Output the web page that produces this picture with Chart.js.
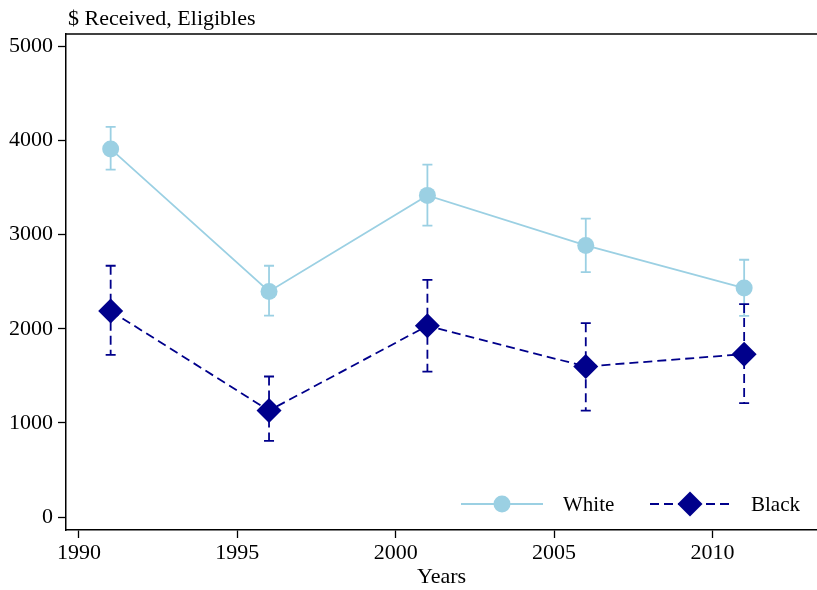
<!DOCTYPE html>
<html>
<head>
<meta charset="utf-8">
<script src="https://cdn.jsdelivr.net/npm/chart.js@4.4.0/dist/chart.umd.min.js"></script>
<style>
  html, body { margin: 0; padding: 0; background: #fff; }
  #wrap { width: 817px; height: 590px; }
</style>
</head>
<body>
<div id="wrap"><canvas id="chart"></canvas></div>
<script>
// data
const years = [1991, 1996, 2001, 2006, 2011];
const whiteMean = [3912, 2397, 3418, 2886, 2433];
const whiteLow = [3691, 2141, 3096, 2603, 2138];
const whiteHigh = [4146, 2670, 3745, 3170, 2734];
const blackMean = [2190, 1131, 2032, 1599, 1731];
const blackLow = [1723, 809, 1546, 1131, 1210];
const blackHigh = [2670, 1493, 2521, 2060, 2263];
const yTicks = [0, 1000, 2000, 3000, 4000, 5000];
const xTicks = [1990, 1995, 2000, 2005, 2010];

const lightBlue = "#9bd0e3";
const navy = "#00008b";
const FONT = "'Liberation Serif', 'Times New Roman', serif";

function pts(ys) {
  return years.map((x, i) => ({ x: x, y: ys[i] }));
}

// error bars + frame + legend + y title
const extras = {
  id: "extras",
  afterDatasetsDraw(chart) {
    const ctx = chart.ctx;
    const xs = chart.scales.x, ys = chart.scales.y;
    const a = chart.chartArea;
    const bars = [
      { lo: whiteLow, hi: whiteHigh, color: lightBlue, dash: [] },
      { lo: blackLow, hi: blackHigh, color: navy, dash: [9, 5] }
    ];
    ctx.save();
    bars.forEach(b => {
      ctx.strokeStyle = b.color;
      ctx.lineWidth = 1.8;
      years.forEach((yr, i) => {
        const px = xs.getPixelForValue(yr);
        const top = ys.getPixelForValue(b.hi[i]);
        const bot = ys.getPixelForValue(b.lo[i]);
        ctx.setLineDash(b.dash);
        ctx.beginPath();
        ctx.moveTo(px, top);
        ctx.lineTo(px, bot);
        ctx.stroke();
        ctx.setLineDash([]);
        ctx.beginPath();
        ctx.moveTo(px - 5, top); ctx.lineTo(px + 5, top);
        ctx.moveTo(px - 5, bot); ctx.lineTo(px + 5, bot);
        ctx.stroke();
      });
    });
    // redraw markers over the bars
    chart.getDatasetMeta(0).data.forEach(p => {
      ctx.fillStyle = lightBlue;
      ctx.beginPath();
      ctx.arc(p.x, p.y, 8.5, 0, Math.PI * 2);
      ctx.fill();
    });
    chart.getDatasetMeta(1).data.forEach(p => {
      ctx.fillStyle = navy;
      ctx.beginPath();
      ctx.moveTo(p.x, p.y - 12.5);
      ctx.lineTo(p.x + 12.5, p.y);
      ctx.lineTo(p.x, p.y + 12.5);
      ctx.lineTo(p.x - 12.5, p.y);
      ctx.closePath();
      ctx.fill();
    });

    // top frame line
    ctx.strokeStyle = "#000";
    ctx.lineWidth = 1.5;
    ctx.beginPath();
    ctx.moveTo(a.left, a.top);
    ctx.lineTo(chart.width, a.top);
    ctx.stroke();

    // axis title on top
    ctx.fillStyle = "#000";
    ctx.font = "22px " + FONT;
    ctx.textAlign = "left";
    ctx.textBaseline = "alphabetic";
    ctx.fillText("$ Received, Eligibles", 68, 25);

    // legend
    const ly = 504;
    ctx.lineWidth = 1.8;
    ctx.strokeStyle = lightBlue;
    ctx.beginPath();
    ctx.moveTo(461, ly); ctx.lineTo(543, ly);
    ctx.stroke();
    ctx.fillStyle = lightBlue;
    ctx.beginPath();
    ctx.arc(502, ly, 8.5, 0, Math.PI * 2);
    ctx.fill();
    ctx.strokeStyle = navy;
    ctx.setLineDash([9, 5]);
    ctx.beginPath();
    ctx.moveTo(650, ly); ctx.lineTo(733, ly);
    ctx.stroke();
    ctx.setLineDash([]);
    ctx.fillStyle = navy;
    ctx.beginPath();
    ctx.moveTo(690, ly - 12.5);
    ctx.lineTo(702.5, ly);
    ctx.lineTo(690, ly + 12.5);
    ctx.lineTo(677.5, ly);
    ctx.closePath();
    ctx.fill();
    ctx.fillStyle = "#000";
    ctx.font = "21px " + FONT;
    ctx.textBaseline = "middle";
    ctx.fillText("White", 563, ly + 1);
    ctx.fillText("Black", 751, ly + 1);
    ctx.restore();
  }
};

new Chart("chart", {
  type: "line",
  data: {
    datasets: [
      {
        label: "White",
        data: pts(whiteMean),
        borderColor: lightBlue,
        backgroundColor: lightBlue,
        borderWidth: 1.8,
        pointRadius: 0,
        tension: 0
      },
      {
        label: "Black",
        data: pts(blackMean),
        borderColor: navy,
        backgroundColor: navy,
        borderWidth: 1.8,
        borderDash: [9, 5],
        pointRadius: 0,
        tension: 0
      }
    ]
  },
  options: {
    responsive: true,
    maintainAspectRatio: false,
    animation: false,
    layout: { padding: { top: 34, right: 0, left: 0, bottom: 0 } },
    plugins: {
      legend: { display: false },
      tooltip: { enabled: false }
    },
    scales: {
      x: {
        type: "linear",
        min: 1989.59,
        max: 2013.3,
        afterBuildTicks: axis => { axis.ticks = xTicks.map(v => ({ value: v })); },
        afterFit: axis => { axis.height = 60; },
        grid: { display: true, drawOnChartArea: false, drawTicks: true, tickLength: 8, tickColor: "#000", tickWidth: 1.3 },
        border: { display: true, color: "#000", width: 1.5 },
        ticks: { color: "#000", font: { family: FONT, size: 22 }, padding: 2, maxRotation: 0, callback: v => String(v) },
        title: { display: true, text: "Years", color: "#000", font: { family: FONT, size: 22 }, padding: { top: -6, bottom: 0 } }
      },
      y: {
        type: "linear",
        min: -138,
        max: 5133,
        afterBuildTicks: axis => { axis.ticks = yTicks.map(v => ({ value: v })); },
        afterFit: axis => { axis.width = 66; },
        grid: { display: true, drawOnChartArea: false, drawTicks: true, tickLength: 8, tickColor: "#000", tickWidth: 1.3 },
        border: { display: true, color: "#000", width: 1.5 },
        ticks: { color: "#000", font: { family: FONT, size: 22 }, padding: 5, callback: v => String(v) }
      }
    }
  },
  plugins: [extras]
});
</script>
</body>
</html>
